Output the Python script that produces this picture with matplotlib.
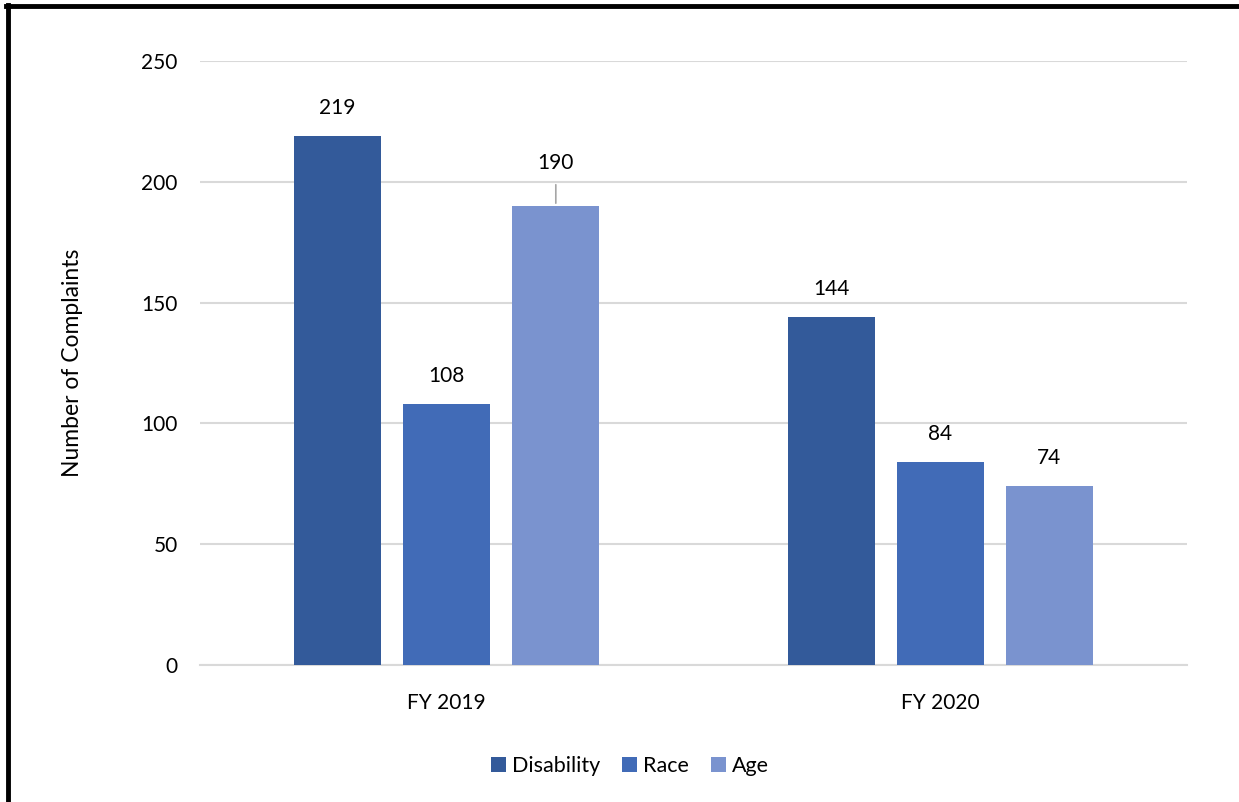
import matplotlib
matplotlib.use("Agg")
import matplotlib.pyplot as plt
from matplotlib.lines import Line2D
import numpy as np

categories = ["FY 2019", "FY 2020"]
series_names = ["Disability", "Race", "Age"]
disability = [219, 144]
race = [108, 84]
age = [190, 74]
y_ticks = [0, 50, 100, 150, 200, 250]

colors = ["#335A9A", "#416BB7", "#7A93CF"]
plt.rcParams['font.family'] = ['Lato', 'DejaVu Sans']

fig = plt.figure(figsize=(12.39, 8.02), dpi=100)
ax = fig.add_axes([200/1239, 1-665/802, 987/1239, 604/802])

x = np.arange(len(categories))
width = 0.176
step = 0.221
values = [disability, race, age]
label_offsets = [[28, 28], [28, 28], [43, 28]]  # pixels
for i, (name, vals, c) in enumerate(zip(series_names, values, colors)):
    pos = x + (i - 1) * step
    ax.bar(pos, vals, width, color=c, label=name, zorder=3)
    for j, (p, v) in enumerate(zip(pos, vals)):
        off = label_offsets[i][j]
        ax.annotate(str(v), xy=(p, v), xytext=(0, off * 0.72), textcoords="offset points",
                    ha="center", va="center", fontsize=15, color="#000000", zorder=4)
        if off > 30:
            ax.annotate("", xy=(p, v), xytext=(p, v + 250 * (off - 19) / 604),
                        arrowprops=dict(arrowstyle="-", color="#A6A6A6", lw=1.2), zorder=4)

ax.set_xlim(-0.5, 1.5)
ax.set_ylim(0, 250)
ax.set_yticks(y_ticks)
ax.set_xticks(x)
ax.set_xticklabels(categories)
ax.tick_params(axis="both", length=0, labelsize=15, colors="#000000")
ax.tick_params(axis="y", pad=16)
ax.tick_params(axis="x", pad=20)
ax.yaxis.grid(True, color="#D9D9D9", lw=1.5, zorder=0)
for s in ["top", "right", "left"]:
    ax.spines[s].set_visible(False)
ax.spines["bottom"].set_color("#D9D9D9")
ax.spines["bottom"].set_linewidth(1.5)
ax.set_ylabel("Number of Complaints", fontsize=16.5, labelpad=42)

ax.legend(loc="center", bbox_to_anchor=(630/1239, 1-766/802), bbox_transform=fig.transFigure,
          ncol=3, frameon=False, fontsize=15.5, handlelength=0.7, handleheight=0.7,
          handletextpad=0.3, columnspacing=1.0)

# black border (top and left)
fig.add_artist(Line2D([8/1239, 8/1239], [0, 1 - 5/802], transform=fig.transFigure, color="black", lw=3.5))
fig.add_artist(Line2D([6/1239, 1], [1 - 5.5/802, 1 - 5.5/802], transform=fig.transFigure, color="black", lw=3.5))

fig.savefig("out.png", dpi=100)
